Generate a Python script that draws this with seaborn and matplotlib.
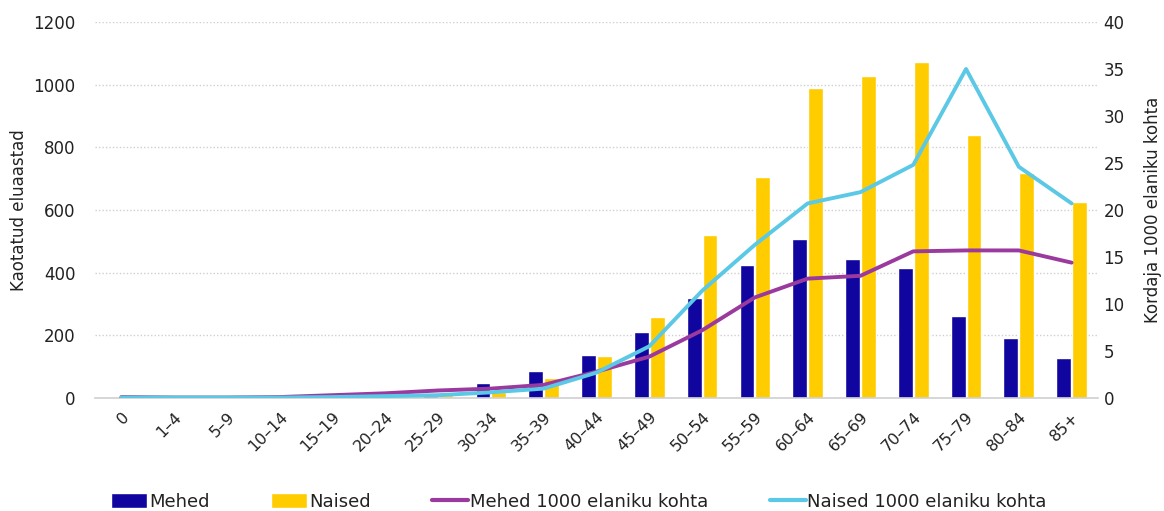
import numpy as np
import pandas as pd
import matplotlib
matplotlib.use("Agg")
import matplotlib.pyplot as plt
import seaborn as sns
from matplotlib.patches import Patch
from matplotlib.lines import Line2D

# Vanuserühmad
vanus = ["0", "1–4", "5–9", "10–14", "15–19", "20–24", "25–29", "30–34", "35–39",
         "40–44", "45–49", "50–54", "55–59", "60–64", "65–69", "70–74", "75–79",
         "80–84", "85+"]

# Kaotatud eluaastad
mehed = [2, 1, 1, 2, 4, 6, 10, 48, 86, 137, 211, 320, 424, 507, 443, 415, 262, 191, 128]
naised = [1, 1, 1, 1, 2, 4, 8, 20, 64, 134, 258, 520, 705, 990, 1028, 1072, 839, 718, 626]

# Kordaja 1000 elaniku kohta
mehed_kordaja = [0.1, 0.05, 0.05, 0.1, 0.3, 0.5, 0.8, 1.0, 1.4, 2.8, 4.4, 7.2, 10.7,
                 12.7, 13.0, 15.6, 15.7, 15.7, 14.4]
naised_kordaja = [0.05, 0.05, 0.05, 0.05, 0.1, 0.2, 0.3, 0.6, 1.0, 2.7, 5.5, 11.4, 16.3,
                  20.7, 21.9, 24.8, 35.0, 24.6, 20.7]

c_mehed = "#10069F"
c_naised = "#FFCC00"
c_mk = "#9B3A9E"
c_nk = "#5BC8E6"

sns.set_theme(style="white")
plt.rcParams["font.family"] = ["DejaVu Sans"]
txt = "#222222"

fig = plt.figure(figsize=(11.64, 5.11), dpi=100)
ax = fig.add_axes([95 / 1164, 113 / 511, 1003 / 1164, 376 / 511])

df = pd.DataFrame({
    "vanus": vanus * 2,
    "väärtus": mehed + naised,
    "sugu": ["Mehed"] * len(vanus) + ["Naised"] * len(vanus),
})
sns.barplot(data=df, x="vanus", y="väärtus", hue="sugu", order=vanus,
            palette={"Mehed": c_mehed, "Naised": c_naised},
            width=0.6, gap=0.06, ax=ax, legend=False, saturation=1)

ax.set_ylim(0, 1200)
ax.set_yticks(np.arange(0, 1201, 200))
ax.set_xlim(-0.5, len(vanus) - 0.5)
ax.yaxis.grid(True, linestyle=(0, (1, 1.5)), color="#cfcfcf", linewidth=1)
ax.set_axisbelow(True)
for s in ["top", "right", "left"]:
    ax.spines[s].set_visible(False)
ax.spines["bottom"].set_color("#d0d0d0")
ax.spines["bottom"].set_linewidth(1.2)
ax.set_xlabel("")
ax.set_ylabel("Kaotatud eluaastad", fontsize=12, color=txt, labelpad=4)
ax.tick_params(axis="y", labelsize=12, colors=txt, length=0, pad=14)
ax.tick_params(axis="x", labelsize=11.5, colors=txt, length=0, pad=8)
for lab in ax.get_xticklabels():
    lab.set_rotation(45)
    lab.set_ha("right")
    lab.set_rotation_mode("anchor")

ax2 = ax.twinx()
xpos = np.arange(len(vanus))
sns.lineplot(x=xpos, y=mehed_kordaja, color=c_mk, linewidth=2.8, ax=ax2)
sns.lineplot(x=xpos, y=naised_kordaja, color=c_nk, linewidth=2.8, ax=ax2)
ax2.set_ylim(0, 40)
ax2.set_yticks(np.arange(0, 41, 5))
ax2.set_xlim(-0.5, len(vanus) - 0.5)
for s in ["top", "right", "left", "bottom"]:
    ax2.spines[s].set_visible(False)
ax2.set_ylabel("Kordaja 1000 elaniku kohta", fontsize=12, color=txt, labelpad=14)
ax2.tick_params(axis="y", labelsize=12, colors=txt, length=0, pad=4)

handles = [
    Patch(facecolor=c_mehed, label="Mehed"),
    Patch(facecolor=c_naised, label="Naised"),
    Line2D([], [], color=c_mk, linewidth=3, label="Mehed 1000 elaniku kohta"),
    Line2D([], [], color=c_nk, linewidth=3, label="Naised 1000 elaniku kohta"),
]
fig.legend(handles=handles, loc="center left", bbox_to_anchor=(104 / 1164, 1 - 502 / 511),
           ncol=4, frameon=False, fontsize=13, handlelength=2.0, handleheight=0.9,
           handletextpad=0.1, columnspacing=3.4, labelcolor=txt, borderaxespad=0)

fig.savefig("out.png", dpi=100)
